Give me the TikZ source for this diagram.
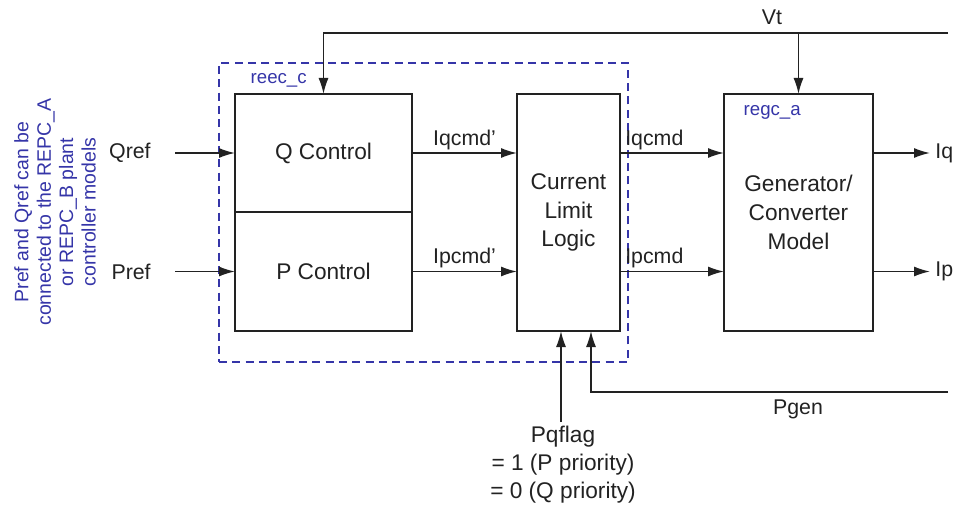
\documentclass[tikz,border=0pt]{standalone}
\usepackage{fontspec}
\setmainfont{Liberation Sans}
\usetikzlibrary{arrows.meta}
\definecolor{ink}{HTML}{222222}
\definecolor{note}{HTML}{3535A8}
\begin{document}
\begin{tikzpicture}[x=0.75pt,y=-0.75pt,
  line width=1pt, draw=ink, text=ink,
  blk/.style={draw=ink, line width=1.2pt, inner sep=0pt, outer sep=0pt, align=center,
    font=\fontsize{17}{21.5}\selectfont},
  sig/.style={font=\fontsize{16}{19}\selectfont, inner sep=2pt},
  arr/.style={-{Latex[length=12pt,width=7.5pt]}, draw=ink, line width=1.1pt},
  grp/.style={draw=note, dashed, dash pattern=on 6pt off 4pt, line width=1pt, inner sep=0pt, outer sep=0pt},
  tag/.style={text=note, font=\fontsize{14}{16}\selectfont, inner sep=0pt}]
\useasboundingbox (0,0) rectangle (958,510);

% grouping box reec_c
\node[grp, minimum width=409*0.75pt, minimum height=299*0.75pt] (reec) at (423.5,212.5) {};
\node[tag, anchor=west] (reectag) at (250,80) {reec\_c};

% blocks
\node[blk, minimum width=177*0.75pt, minimum height=118*0.75pt] (q) at (323.5,153) {Q Control};
\node[blk, minimum width=177*0.75pt, minimum height=119*0.75pt] (p) at (323.5,271.5) {P Control};
\node[blk, minimum width=103*0.75pt, minimum height=237*0.75pt] (cl) at (568.5,212.5) {Current\\Limit\\Logic};
\node[blk, minimum width=149*0.75pt, minimum height=237*0.75pt] (g) at (798.5,212.5) {Generator/\\Converter\\Model};
\node[tag, anchor=west] (regctag) at (743,112) {regc\_a};

% left note
\node[rotate=90, align=center, text=note, font=\fontsize{14.6}{16.8}\selectfont] (note) at (55,212)
  {Pref and Qref can be\\connected to the REPC\_A\\or REPC\_B plant\\controller models};

% inputs
\node[sig, anchor=east] (qref) at (154,153) {Qref};
\node[sig, anchor=east] (pref) at (154,272) {Pref};
\coordinate (qs) at (175,153);
\coordinate (ps) at (175,271.5);
\draw[arr] (qs) -- (q.west);
\draw[arr] (ps) -- (p.west);

% internal signals
\draw[arr] (q.east) -- node[sig, above] (iqc1) {Iqcmd'} (cl.west |- q.east);
\draw[arr] (p.east) -- node[sig, above] (ipc1) {Ipcmd'} (cl.west |- p.east);
\draw[arr] (cl.east |- q.east) -- node[sig, above, pos=0.33] (iqc) {Iqcmd} (g.west |- q.east);
\draw[arr] (cl.east |- p.east) -- node[sig, above, pos=0.33] (ipc) {Ipcmd} (g.west |- p.east);

% outputs
\coordinate (iqend) at (930,153);
\coordinate (ipend) at (930,271.5);
\draw[arr] (g.east |- q.east) -- (iqend);
\draw[arr] (g.east |- p.east) -- (ipend);
\node[sig, anchor=west] (iq) at (932,153) {Iq};
\node[sig, anchor=west] (ip) at (932,271.5) {Ip};

% Vt feedback
\coordinate (vtR) at (948,33);
\draw[arr] (vtR) -| (q.north);
\draw[arr] (g.north |- vtR) -- (g.north);
\node[sig] (vt) at (772,17) {Vt};

% Pqflag
\coordinate (pqtop) at (561,422);
\draw[arr] (pqtop) -- (pqtop |- cl.south);
\node[align=center, font=\fontsize{17}{21}\selectfont, inner sep=0pt] (pq) at (563,465)
  {Pqflag\\= 1 (P priority)\\= 0 (Q priority)};

% Pgen
\coordinate (pgR) at (948,392);
\coordinate (pgT) at (591,392);
\draw[arr] (pgR) -- (pgT) -- (pgT |- cl.south);
\node[sig] (pgen) at (798,409) {Pgen};
\end{tikzpicture}
\end{document}
